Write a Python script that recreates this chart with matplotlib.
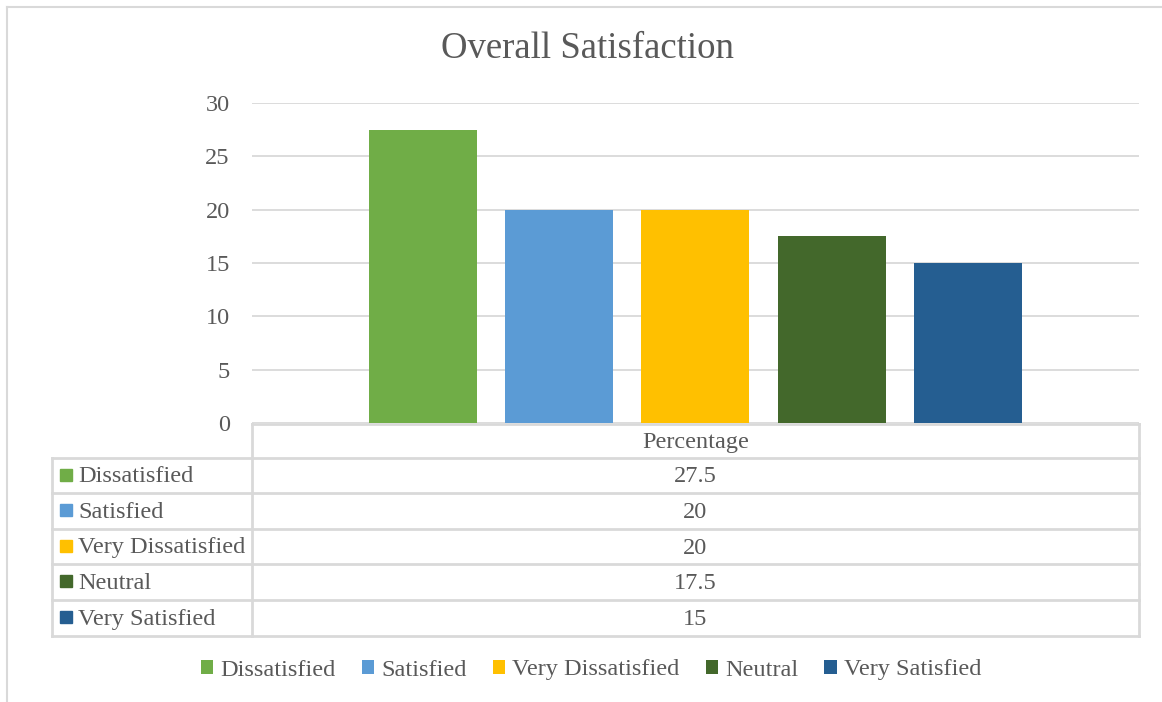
import matplotlib
matplotlib.use("Agg")
import matplotlib.pyplot as plt
from matplotlib.lines import Line2D
from matplotlib.patches import Patch, Rectangle

# Survey results
categories = ["Dissatisfied", "Satisfied", "Very Dissatisfied", "Neutral", "Very Satisfied"]
percentages = [27.5, 20, 20, 17.5, 15]
colors = ["#70AD47", "#5B9BD5", "#FFC000", "#43682B", "#255E91"]
row_header = "Percentage"
yticks = [0, 5, 10, 15, 20, 25, 30]
title = "Overall Satisfaction"

W, H = 1162, 702
TEXT = "#595959"
GRID = "#D9D9D9"
FS = 17.5
plt.rcParams["font.family"] = ["Liberation Serif", "DejaVu Serif"]

fig = plt.figure(figsize=(W / 100, H / 100), dpi=100)


def fx(px):
    return px / W


def fy(py):
    return 1 - py / H


# chart border (left and top edges visible)
fig.add_artist(Line2D([fx(7), fx(7)], [fy(7), fy(H + 5)], color=GRID, lw=1.5,
                      transform=fig.transFigure))
fig.add_artist(Line2D([fx(7), fx(W + 5)], [fy(7), fy(7)], color=GRID, lw=1.5,
                      transform=fig.transFigure))

# plot area
left, right, top, base = 252, 1139, 103, 423
ax = fig.add_axes([fx(left), fy(base), fx(right - left), fy(top) - fy(base)])
n = len(categories)
pitch = 136.4
width = 108 / pitch
half = (right - left) / 2 / pitch
xs = list(range(n))
ax.bar(xs, percentages, width=width, color=colors, zorder=3)
ax.set_xlim((n - 1) / 2 - half, (n - 1) / 2 + half)
ax.set_ylim(0, 30)
ax.set_yticks(yticks)
ax.set_xticks([])
ax.grid(axis="y", color=GRID, lw=1.3, zorder=0)
for s in ax.spines.values():
    s.set_visible(False)
ax.tick_params(axis="y", length=0, pad=16, labelsize=FS, labelcolor=TEXT)

# title
fig.text(fx(587), fy(49), title, ha="center", va="center", fontsize=26.5, color=TEXT)

# data table
tl, tdiv, tr = 52, 252, 1139
rows_y = [424, 458, 493, 529, 564, 600, 636]
lw_t = 2.0


def hline(x0, x1, y):
    fig.add_artist(Line2D([fx(x0), fx(x1)], [fy(y), fy(y)], color=GRID, lw=lw_t,
                          transform=fig.transFigure, zorder=5))


def vline(x, y0, y1):
    fig.add_artist(Line2D([fx(x), fx(x)], [fy(y0), fy(y1)], color=GRID, lw=lw_t,
                          transform=fig.transFigure, zorder=5))


hline(tdiv, tr, rows_y[0])
for y in rows_y[1:]:
    hline(tl, tr, y)
vline(tdiv, rows_y[0], rows_y[-1])
vline(tr, rows_y[0], rows_y[-1])
vline(tl, rows_y[1], rows_y[-1])

fig.text(fx((tdiv + tr) / 2), fy((rows_y[0] + rows_y[1]) / 2 + 1.5), row_header,
         ha="center", va="center", fontsize=FS, color=TEXT)
for i, (cat, val, col) in enumerate(zip(categories, percentages, colors)):
    yc = (rows_y[i + 1] + rows_y[i + 2]) / 2
    fig.add_artist(Rectangle((fx(60), fy(yc + 5)), fx(12), fy(yc - 7) - fy(yc + 5),
                             color=col, transform=fig.transFigure))
    fig.text(fx(78), fy(yc + 1.5), cat, ha="left", va="center", fontsize=FS, color=TEXT)
    fig.text(fx((tdiv + tr) / 2), fy(yc + 1.5), f"{val:g}", ha="center", va="center",
             fontsize=FS, color=TEXT)

# legend
handles = [Patch(facecolor=c, edgecolor="none") for c in colors]
leg = fig.legend(handles, categories, loc="center", ncol=n,
                 bbox_to_anchor=(fx(591), fy(670)), frameon=False, fontsize=FS,
                 handlelength=0.5, handleheight=0.5, handletextpad=0.3,
                 columnspacing=1.08)
for t in leg.get_texts():
    t.set_color(TEXT)

fig.savefig("out.png", dpi=100, facecolor="white")
